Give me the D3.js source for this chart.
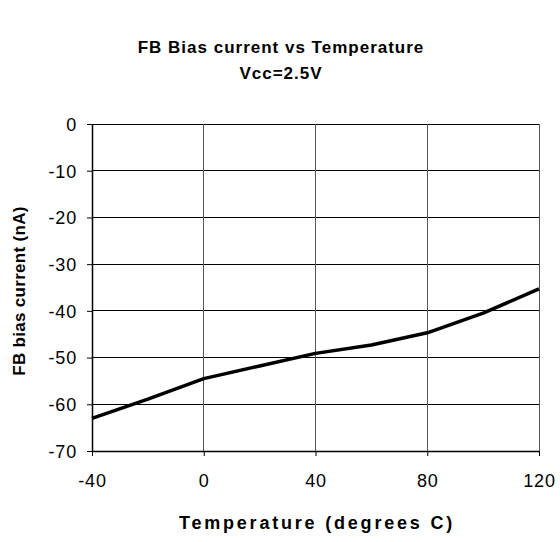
<!DOCTYPE html>
<html><head><meta charset="utf-8">
<script src="https://cdn.jsdelivr.net/npm/d3@7/dist/d3.min.js"></script>
<style>body{margin:0;background:#fff}svg{display:block}</style>
</head><body>
<script>
const temps = [-40, -20, 0, 20, 40, 60, 80, 100, 120];
const biasCurrent = [-63, -58.9, -54.5, -51.8, -49.1, -47.3, -44.7, -40.5, -35.3];
const xTicks = [-40, 0, 40, 80, 120];
const yTicks = [0, -10, -20, -30, -40, -50, -60, -70];
const titleLines = ["FB Bias current vs Temperature", "Vcc=2.5V"];
const xTitle = "Temperature (degrees C)";
const yTitle = "FB bias current (nA)";

const W = 560, H = 542;
const m = {left: 92, right: 21, top: 124, bottom: 91};
const svg = d3.select("body").append("svg").attr("width", W).attr("height", H);
const x = d3.scaleLinear().domain([-40, 120]).range([m.left, W - m.right]);
const y = d3.scaleLinear().domain([-70, 0]).range([H - m.bottom, m.top]);
const font = "'Liberation Sans', Arial, sans-serif";
const fmt = d => String(d);

// gridlines
svg.append("g").selectAll("line").data(yTicks.filter(d => d !== -70)).join("line")
  .attr("x1", m.left).attr("x2", W - m.right)
  .attr("y1", d => y(d)).attr("y2", d => y(d))
  .attr("stroke", "#000").attr("stroke-width", 1).attr("shape-rendering", "crispEdges");
svg.append("g").selectAll("line").data(xTicks.filter(d => d !== -40)).join("line")
  .attr("y1", m.top).attr("y2", H - m.bottom)
  .attr("x1", d => x(d)).attr("x2", d => x(d))
  .attr("stroke", "#555").attr("stroke-width", 1).attr("shape-rendering", "crispEdges");

// axes
const xAxis = svg.append("g").attr("transform", `translate(0,${H - m.bottom})`)
  .call(d3.axisBottom(x).tickValues(xTicks).tickFormat(fmt).tickSize(5).tickPadding(18).tickSizeOuter(0));
const yAxis = svg.append("g").attr("transform", `translate(${m.left},0)`)
  .call(d3.axisLeft(y).tickValues(yTicks).tickFormat(fmt).tickSize(5).tickPadding(10).tickSizeOuter(0));
[xAxis, yAxis].forEach(g => {
  g.selectAll("path").attr("stroke", "#000").attr("stroke-width", 1.5);
  g.selectAll("line").attr("stroke", "#000");
  g.selectAll("text").attr("font-family", font).attr("font-size", 18)
    .attr("letter-spacing", 0.8).attr("fill", "#000");
});
yAxis.selectAll("text").attr("dy", "0.35em");

// line
const line = d3.line().x((d, i) => x(temps[i])).y(d => y(d));
svg.append("path").datum(biasCurrent).attr("d", line)
  .attr("fill", "none").attr("stroke", "#000").attr("stroke-width", 3.5)
  .attr("stroke-linejoin", "round");

// titles
svg.append("g").selectAll("text").data(titleLines).join("text")
  .attr("x", 281).attr("y", (d, i) => 53 + i * 26)
  .attr("text-anchor", "middle").attr("font-family", font)
  .attr("font-size", 17).attr("font-weight", "bold").attr("letter-spacing", 1)
  .text(d => d);
svg.append("text").attr("x", 317).attr("y", 529).attr("text-anchor", "middle")
  .attr("font-family", font).attr("font-size", 18).attr("font-weight", "bold")
  .attr("letter-spacing", 2.8).text(xTitle);
svg.append("text").attr("transform", "translate(25,291) rotate(-90)")
  .attr("text-anchor", "middle").attr("font-family", font).attr("font-size", 17)
  .attr("font-weight", "bold").attr("letter-spacing", 0.3).text(yTitle);
</script>
</body></html>
